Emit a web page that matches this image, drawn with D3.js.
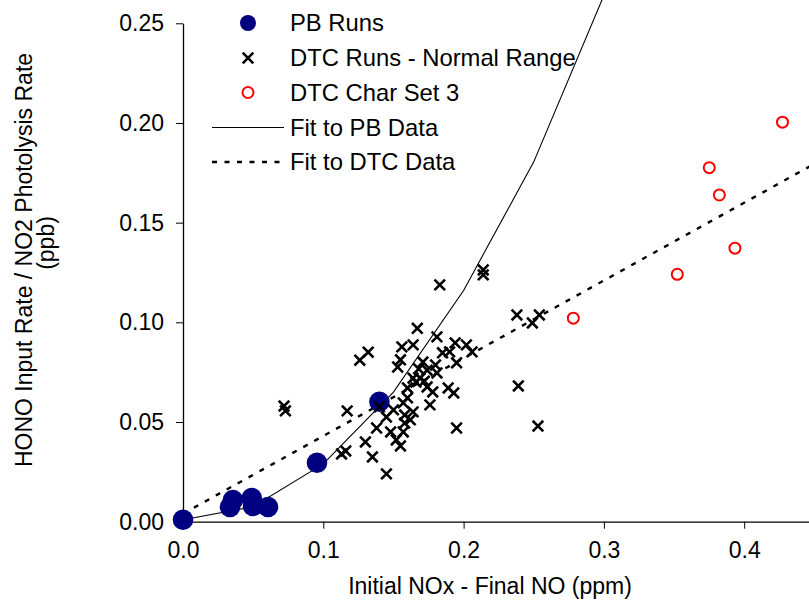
<!DOCTYPE html>
<html>
<head>
<meta charset="utf-8">
<script src="https://cdn.jsdelivr.net/npm/d3@7/dist/d3.min.js"></script>
<style>
  html, body { margin: 0; padding: 0; background: #fff; }
  svg { display: block; font-family: "Liberation Sans", Arial, sans-serif; }
</style>
</head>
<body>
<svg id="chart" width="809" height="601"></svg>
<script>
// ---- data ----
const pbX = [0.000, 0.0335, 0.0356, 0.049, 0.0499, 0.0606, 0.0955, 0.140];
const pbY = [0.001, 0.0074, 0.0109, 0.0119, 0.0079, 0.0074, 0.0296, 0.0602];

const dtcX = [0.072, 0.073, 0.117, 0.113, 0.116, 0.126, 0.132, 0.167, 0.181, 0.194,
              0.202, 0.206, 0.185, 0.190, 0.195, 0.164, 0.156, 0.155, 0.153, 0.171,
              0.174, 0.181, 0.169, 0.164, 0.174, 0.160, 0.178, 0.189, 0.193, 0.239,
              0.176, 0.157, 0.160, 0.140, 0.145, 0.158, 0.164, 0.138, 0.148, 0.157,
              0.158, 0.195, 0.253, 0.130, 0.155, 0.135, 0.145, 0.238, 0.249, 0.254,
              0.214, 0.214, 0.183, 0.166, 0.172, 0.180, 0.168, 0.150, 0.162, 0.152];
const dtcY = [0.058, 0.0556, 0.0556, 0.034, 0.0355, 0.081, 0.085, 0.097, 0.0927, 0.0897,
              0.0887, 0.0852, 0.0847, 0.0852, 0.0797, 0.0887, 0.0877, 0.0812, 0.0776, 0.0801,
              0.076, 0.0746, 0.072, 0.072, 0.0676, 0.0671, 0.0651, 0.0671, 0.0646, 0.0681,
              0.0586, 0.0596, 0.0621, 0.0576, 0.0525, 0.0535, 0.0551, 0.047, 0.045, 0.045,
              0.0495, 0.047, 0.048, 0.040, 0.038, 0.0325, 0.024, 0.1037, 0.0997, 0.1037,
              0.1263, 0.1238, 0.1188, 0.070, 0.0705, 0.0786, 0.0766, 0.0561, 0.0511, 0.041];

const charX = [0.4273, 0.3751, 0.3823, 0.3934, 0.3523, 0.2782];
const charY = [0.2004, 0.1776, 0.1639, 0.1372, 0.1241, 0.1021];

const fitPbX = [0, 0.05, 0.10, 0.15, 0.20, 0.25, 0.30];
const fitPbY = [0.001, 0.0075, 0.029, 0.065, 0.116, 0.1805, 0.264];

const fitDtcX = [0, 0.45];
const fitDtcY = [0.004, 0.1795];

const xTicks = [0, 0.1, 0.2, 0.3, 0.4];
const yTicks = [0, 0.05, 0.10, 0.15, 0.20, 0.25];

const legendLabels = ["PB Runs", "DTC Runs - Normal Range", "DTC Char Set 3", "Fit to PB Data", "Fit to DTC Data"];

// ---- layout ----
const svg = d3.select("#chart");
const x0 = 183, xPer = 1403;
const x = d3.scaleLinear().domain([0, (809 - x0) / xPer]).range([x0, 809]);
const y = d3.scaleLinear().domain([0, 0.25]).range([521.7, 23.3]);
const FS = 23;
const LFS = 23.8;

// axes
const xAxis = d3.axisBottom(x).tickValues(xTicks).tickFormat(d3.format(".1f"))
  .tickSize(7).tickSizeOuter(0).tickPadding(13);
const gx = svg.append("g").attr("transform", `translate(0,${y(0)})`).call(xAxis);
const yAxis = d3.axisLeft(y).tickValues(yTicks).tickFormat(d3.format(".2f"))
  .tickSize(7).tickSizeOuter(0).tickPadding(12);
const gy = svg.append("g").attr("transform", `translate(${x0},0)`).call(yAxis);
[gx, gy].forEach(g => {
  g.selectAll("path.domain").attr("stroke", "#000").attr("stroke-width", 1.3);
  g.selectAll(".tick line").attr("stroke", "#000").attr("stroke-width", 1);
  g.selectAll(".tick text").attr("fill", "#000").style("font-size", FS + "px")
    .style("font-family", "'Liberation Sans', Arial, sans-serif");
});

// axis titles
svg.append("text").attr("x", 490).attr("y", 594).attr("text-anchor", "middle")
  .style("font-size", FS + "px").text("Initial NOx - Final NO (ppm)");
svg.append("text").attr("transform", "translate(32,260) rotate(-90)").attr("text-anchor", "middle")
  .style("font-size", FS + "px").text("HONO Input Rate / NO2 Photolysis Rate");
svg.append("text").attr("transform", "translate(54,243) rotate(-90)").attr("text-anchor", "middle")
  .style("font-size", FS + "px").text("(ppb)");

// fit lines
const line = d3.line().x(d => x(d[0])).y(d => y(d[1]));
svg.append("path").datum(d3.zip(fitPbX, fitPbY)).attr("d", line)
  .attr("fill", "none").attr("stroke", "#000").attr("stroke-width", 1.1);
svg.append("path").datum(d3.zip(fitDtcX, fitDtcY)).attr("d", line)
  .attr("fill", "none").attr("stroke", "#000").attr("stroke-width", 2.4)
  .attr("stroke-dasharray", "5,7.5");

// PB points
svg.append("g").selectAll("circle").data(d3.zip(pbX, pbY)).join("circle")
  .attr("cx", d => x(d[0])).attr("cy", d => y(d[1])).attr("r", 10.3).attr("fill", "#000080");

// DTC crosses
const crossPath = "M-5.3,-5.3L5.3,5.3M-5.3,5.3L5.3,-5.3";
svg.append("g").selectAll("path").data(d3.zip(dtcX, dtcY)).join("path")
  .attr("transform", d => `translate(${x(d[0])},${y(d[1])})`)
  .attr("d", crossPath).attr("stroke", "#000").attr("stroke-width", 2.6).attr("fill", "none");

// Char set 3
svg.append("g").selectAll("circle").data(d3.zip(charX, charY)).join("circle")
  .attr("cx", d => x(d[0])).attr("cy", d => y(d[1])).attr("r", 5.5)
  .attr("fill", "none").attr("stroke", "#ff0000").attr("stroke-width", 2);

// legend
const lg = svg.append("g");
const ly = [23, 58, 92.5, 127.5, 162];
lg.append("circle").attr("cx", 248).attr("cy", ly[0]).attr("r", 8).attr("fill", "#000080");
lg.append("path").attr("transform", `translate(248,${ly[1]})`).attr("d", crossPath)
  .attr("stroke", "#000").attr("stroke-width", 2.6);
lg.append("circle").attr("cx", 248).attr("cy", ly[2]).attr("r", 5.5)
  .attr("fill", "none").attr("stroke", "#ff0000").attr("stroke-width", 2);
lg.append("line").attr("x1", 212).attr("x2", 284).attr("y1", ly[3]).attr("y2", ly[3])
  .attr("stroke", "#000").attr("stroke-width", 1.1);
lg.append("line").attr("x1", 212).attr("x2", 284).attr("y1", ly[4]).attr("y2", ly[4])
  .attr("stroke", "#000").attr("stroke-width", 2.4).attr("stroke-dasharray", "5,7.5");
lg.selectAll("text").data(legendLabels).join("text")
  .attr("x", 290).attr("y", (d, i) => ly[i]).attr("dy", "0.35em")
  .style("font-size", LFS + "px").text(d => d);
</script>
</body>
</html>
